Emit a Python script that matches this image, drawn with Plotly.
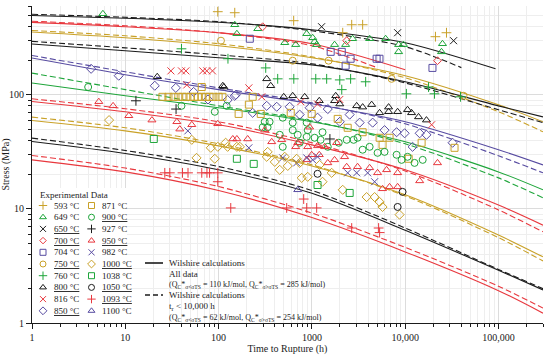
import plotly.graph_objects as go

FONT = "Liberation Serif, DejaVu Serif, serif"
GOLD = "#c9a128"
GREEN = "#1ea53a"
RED = "#e8383e"
PURPLE = "#574ba1"
BLACK = "#1b1b1b"

# ---------------- experimental data (time h, stress MPa) ----------------
t593 = [98, 149, 638, 2670, 3500, 2140, 21100, 27700]
s593 = [535, 524, 446, 411, 411, 350, 323, 350]
t649 = [5.75, 149, 157, 263, 512, 671, 880, 1020, 1070, 1125, 1750, 2300, 2730, 4160, 6170, 8500, 9600, 8500, 25100, 24500]
s649 = [513, 411, 343, 379, 286, 275, 343, 316, 292, 275, 275, 275, 310, 310, 310, 275, 275, 238, 280, 238]
t650 = [1270, 8300, 33000]
s650 = [395, 350, 298]
t700 = [297, 2360, 22200]
s700 = [395, 298, 199]
t704 = [216, 1590, 2090, 2600, 2300, 4940, 5300, 19600]
s704 = [310, 238, 238, 207, 180, 207, 207, 172]
t750 = [106, 623, 1510, 7150, 42200]
s750 = [298, 199, 199, 138, 98]
t760 = [40, 126, 320, 430, 640, 1100, 1440, 1990, 2600, 3770, 2090, 10300, 17800, 20600, 39200]
s760 = [253, 207, 172, 138, 138, 138, 138, 135, 138, 130, 111, 102, 117, 102, 96]
t800 = [22, 114, 111, 328, 362, 499, 623, 837, 1200, 1800, 1750, 1990, 3020, 3500, 4370, 5320, 6640, 6640, 8300, 10600, 11700, 13900, 16900]
s800 = [144, 117, 120, 138, 120, 96, 98, 96, 88.6, 98, 88.6, 83, 80, 78, 82, 69.5, 78, 71, 71, 74, 69.5, 64, 60]
t816 = [30.8, 40, 44.6, 67.7, 74.7, 86, 45.6, 211, 290, 760, 1150, 1990, 19200]
s816 = [162, 162, 162, 162, 162, 162, 122, 115, 96, 87, 83, 91, 54.6]
t850 = [4.3, 8.5, 20.7, 34.8, 54, 77, 125, 149, 153, 232, 328, 420, 578, 946, 1480, 740, 1150, 1990, 2540, 3250, 4480, 6010, 8090, 9860, 12000, 14300, 16900, 32200]
s850 = [169, 147, 120, 115, 106, 91, 90, 98, 100, 69.5, 80, 78.5, 78.5, 77, 75, 67, 63, 58, 67, 57, 57, 49, 47, 46, 35, 46, 44.6, 38]
t871 = [25, 29, 33, 37, 41, 45, 50, 55, 60, 66, 73, 80, 88, 100, 110,
        66, 211, 232, 164, 283, 593, 995, 1890, 2420, 3500, 5320, 6800, 5720, 10900, 15000, 33800]
s871 = [96, 96, 96, 96, 96, 96, 96, 96, 96, 96, 96, 96, 96, 96, 96,
        117, 82, 96, 68, 68, 69.5, 68, 61.5, 51.4, 47, 42, 42, 36.4, 27.5, 38, 34.3]
t900 = [4, 40, 91, 122, 312, 352, 297, 335, 452, 487, 623, 705, 902, 740, 880, 1070, 1300, 1240, 1480, 1940,
        2360, 2800, 3090, 3500, 4160, 5060, 6010, 8090, 9150, 10600, 12600, 15400, 487, 623, 880]
s900 = [117, 80, 71, 80, 58, 58, 52, 52, 44.6, 35, 49, 44.6, 49, 38, 42.8, 42, 47, 40.3, 35, 38,
        40.3, 40.3, 42, 33, 35, 31, 31.6, 29.8, 26.9, 28.6, 25.3, 26.9, 63, 57, 57]
t927 = [13, 35, 1560]
s927 = [88.6, 75, 41]
t950 = [5.2, 7.4, 10.9, 19.3, 35.7, 38.4, 51.6, 98, 142, 157, 205, 312, 371, 475, 705, 671, 902, 1150, 1370, 1840,
        946, 1750, 2240, 880, 995, 1200, 1480, 2360, 3090, 4160, 5060, 6320, 8300, 5720, 6800, 8300, 14300, 22200]
s950 = [87, 80, 65.5, 60, 58, 50, 54.6, 55.7, 41, 41, 41, 49, 38.7, 40.3, 38, 35, 35, 35.7, 35, 38,
        52, 26.9, 28.6, 26.9, 29.8, 29.8, 25.3, 23.4, 23.4, 22.9, 20.7, 22, 20.7, 15, 15.6, 15.6, 17.6, 25.3]
t982 = [46.8, 211, 487, 687, 880, 1020, 1150, 2420, 3020, 3960, 4700]
s982 = [48.3, 34.3, 28, 25.3, 28, 26.9, 28.6, 20.7, 20.7, 20.7, 17.3]
t1000 = [6.7, 51.6, 58, 82.5, 98, 125, 157, 119, 169, 91, 328, 336, 512, 400, 551, 452, 687, 740, 778, 902,
         1210, 1630, 1300, 2140, 3860, 4700, 5320, 5720, 8710]
s1000 = [60, 40.3, 28, 34.3, 35, 35, 35, 38, 35, 27.5, 28.6, 31.6, 28.6, 25.8, 23.8, 22, 27.5, 25.3, 18.7, 19.1,
         24.3, 20.7, 17.3, 14.7, 12.7, 12.7, 11.5, 10.4, 8.9]
t1038 = [20.2, 157, 238, 1150, 2540]
s1038 = [41, 27.5, 24.8, 16.2, 13.8]
t1050 = [1150, 8300, 9370]
s1050 = [20.3, 10.4, 14.1]
t1093 = [26.5, 30, 41, 47, 66, 75, 80, 98, 98, 135, 537, 817, 880, 1125, 2670, 5190, 5320]
s1093 = [20.7, 20.7, 20.7, 20.7, 20.7, 20.7, 20.7, 20.7, 17.3, 10.2, 10.2, 12.2, 10.2, 10.2, 6.8, 6.8, 6.2]
t1100 = [705]
s1100 = [14.7]

# ---------------- Wilshire curves (time h, stress MPa) ----------------
tc = [1, 10, 100, 1000, 10000, 100000, 300000]
c650_t = [1, 10, 100, 1000, 10000, 93000]
c650_s = [496, 469, 432, 372, 286, 169]
c650d_t = [1, 10, 100, 1000, 10000, 40000]
c650d_s = [508, 478, 437, 364, 264, 173]
c700_t = [1, 10, 100, 1000, 10000]
c700_s = [431, 395, 350, 280, 166]
c700d_t = [1, 10, 100, 1000, 5000]
c700d_s = [441, 403, 350, 269, 173]
c750_s = [355, 316, 269, 211, 147, 81.7, 58]
c750d_s = [366, 329, 280, 215, 141, 71, 47.4]
c800_s = [278.5, 243, 211, 183, 130, 80, 64]
c800d_s = [294, 258, 224, 187, 127, 74, 57]
c850_s = [210, 150, 111, 83.4, 58, 33, 24.3]
c850d_s = [221, 159, 115, 85, 55.7, 29.2, 20.7]
c900_s = [127, 98, 77, 58, 38.7, 21.1, 14.7]
c900d_s = [155, 111, 80, 59, 37.2, 18.7, 12.5]
c950_s = [87.4, 71, 54.6, 36.4, 22, 10.8, 7.2]
c950d_s = [92.2, 75.4, 58, 38, 21.5, 9.8, 6.3]
c1000_s = [59.5, 48.3, 35.7, 23.8, 13.3, 5.9, 3.8]
c1000d_s = [63.7, 51.4, 37.2, 24.3, 13, 5.6, 3.5]
c1050_s = [39, 30.6, 22, 13.7, 6.5, 2.9, 1.95]
c1050d_s = [41.7, 32.5, 23.5, 14.5, 6.8, 2.95, 2.0]
c1093_s = [26.9, 21.1, 14.5, 8.4, 4.2, 1.92, 1.22]
c1093d_s = [29.4, 22.8, 15.7, 9.2, 4.6, 2.1, 1.35]

x_tickvals = [1, 10, 100, 1000, 10000, 100000]
x_ticktext = ["1", "10", "100", "1000", "10,000", "100,000"]
y_tickvals = [1, 10, 100]
y_ticktext = ["1", "10", "100"]

DASH = "6px,3px"
fig = go.Figure()

curves = [
    (c650_t, c650_s, BLACK, "solid"), (c650d_t, c650d_s, BLACK, DASH),
    (c700_t, c700_s, RED, "solid"), (c700d_t, c700d_s, RED, DASH),
    (tc, c750_s, GOLD, "solid"), (tc, c750d_s, GOLD, DASH),
    (tc, c800_s, BLACK, "solid"), (tc, c800d_s, BLACK, DASH),
    (tc, c850_s, PURPLE, "solid"), (tc, c850d_s, PURPLE, DASH),
    (tc, c900_s, GREEN, "solid"), (tc, c900d_s, GREEN, DASH),
    (tc, c950_s, RED, "solid"), (tc, c950d_s, RED, DASH),
    (tc, c1000_s, GOLD, "solid"), (tc, c1000d_s, GOLD, DASH),
    (tc, c1050_s, BLACK, "solid"), (tc, c1050d_s, BLACK, DASH),
    (tc, c1093_s, RED, "solid"), (tc, c1093d_s, RED, DASH),
]
for xs, ys, col, dash in curves:
    fig.add_trace(go.Scatter(x=xs, y=ys, mode="lines",
                             line=dict(color=col, width=1.1, dash=dash, shape="spline", smoothing=0.8),
                             hoverinfo="skip", showlegend=False))

series = [
    ("593 °C", False, t593, s593, "cross-thin", GOLD, 7),
    ("649 °C", False, t649, s649, "triangle-up-open", GREEN, 7),
    ("650 °C", True, t650, s650, "x-thin", BLACK, 7),
    ("700 °C", True, t700, s700, "diamond-open", RED, 6),
    ("704 °C", False, t704, s704, "square-open", PURPLE, 7),
    ("750 °C", True, t750, s750, "circle-open", GOLD, 7),
    ("760 °C", False, t760, s760, "cross-thin", GREEN, 7),
    ("800 °C", True, t800, s800, "triangle-up-open", BLACK, 7),
    ("816 °C", False, t816, s816, "x-thin", RED, 7),
    ("850 °C", True, t850, s850, "diamond-open", PURPLE, 7),
    ("871 °C", False, t871, s871, "square-open", GOLD, 7),
    ("900 °C", True, t900, s900, "circle-open", GREEN, 7),
    ("927 °C", False, t927, s927, "cross-thin", BLACK, 7),
    ("950 °C", True, t950, s950, "triangle-up-open", RED, 7),
    ("982 °C", False, t982, s982, "x-thin", PURPLE, 7),
    ("1000 °C", True, t1000, s1000, "diamond-open", GOLD, 7),
    ("1038 °C", False, t1038, s1038, "square-open", GREEN, 7),
    ("1050 °C", True, t1050, s1050, "circle-open", BLACK, 7),
    ("1093 °C", True, t1093, s1093, "cross-thin", RED, 7),
    ("1100 °C", False, t1100, s1100, "triangle-up-open", PURPLE, 7),
]
for name, und, xs, ys, sym, col, sz in series:
    fig.add_trace(go.Scatter(x=xs, y=ys, mode="markers", name=name,
                             marker=dict(symbol=sym, size=sz, color=col, line=dict(color=col, width=1)),
                             showlegend=False))

# ---------------- manual legend (helper axes x2/y2 in pixel units) ----------------
fig.add_trace(go.Scatter(x=[32.6, 127, 127, 32.6, 32.6], y=[188, 188, 322.4, 322.4, 188],
                         xaxis="x2", yaxis="y2", mode="lines", fill="toself",
                         fillcolor="white", line=dict(width=0, color="white"),
                         hoverinfo="skip", showlegend=False))
fig.add_annotation(xref="x2", yref="y2", x=38, y=195, text="Experimental Data", showarrow=False,
                   xanchor="left", yanchor="middle", font=dict(family=FONT, size=9, color=BLACK))
for i, (name, und, xs, ys, sym, col, sz) in enumerate(series):
    col_i, row_i = divmod(i, 10)
    mx = 43 if col_i == 0 else 91.5
    tx = 51.5 if col_i == 0 else 100
    yy = 205.5 + row_i * 11.7
    fig.add_trace(go.Scatter(x=[mx], y=[yy], xaxis="x2", yaxis="y2", mode="markers",
                             marker=dict(symbol=sym, size=sz - 1, color=col, line=dict(color=col, width=1)),
                             hoverinfo="skip", showlegend=False))
    label = f"<u>{name}</u>" if und else name
    fig.add_annotation(xref="x2", yref="y2", x=tx, y=yy, text=label, showarrow=False,
                       xanchor="left", yanchor="middle", font=dict(family=FONT, size=9, color=BLACK))

# Wilshire legend samples
fig.add_trace(go.Scatter(x=[145, 163], y=[263, 263], xaxis="x2", yaxis="y2", mode="lines",
                         line=dict(color=BLACK, width=1.6), hoverinfo="skip", showlegend=False))
fig.add_trace(go.Scatter(x=[145, 163], y=[295, 295], xaxis="x2", yaxis="y2", mode="lines",
                         line=dict(color=BLACK, width=1.6, dash="5px,3px"), hoverinfo="skip", showlegend=False))
wl = [
    (263, "Wilshire calculations", 9),
    (273.5, "All data", 9),
    (284.5, "(Q<sub>C</sub>*<sub>σ&lt;σTS</sub> = 110 kJ/mol, Q<sub>C</sub>*<sub>σ&gt;σTS</sub> = 285 kJ/mol)", 8),
    (295, "Wilshire calculations", 9),
    (306, "t<sub>r</sub> &lt; 10,000 h", 9),
    (317.5, "(Q<sub>C</sub>*<sub>σ&lt;σTS</sub> = 62 kJ/mol, Q<sub>C</sub>*<sub>σ&gt;σTS</sub> = 254 kJ/mol)", 8),
]
for yy, txt, fs in wl:
    fig.add_annotation(xref="x2", yref="y2", x=167, y=yy, text=txt, showarrow=False,
                       xanchor="left", yanchor="middle", font=dict(family=FONT, size=fs, color=BLACK))

minor_x = [m * 10 ** d for d in range(0, 6) for m in range(2, 10) if m * 10 ** d <= 300000]
minor_y = [m * 10 ** d for d in range(0, 3) for m in range(2, 10) if m * 10 ** d <= 600]

fig.update_layout(
    width=550, height=357,
    margin=dict(l=32, r=7, t=6, b=34, autoexpand=False),
    paper_bgcolor="white", plot_bgcolor="white",
    showlegend=False, hovermode=False,
    font=dict(family=FONT, size=10, color=BLACK),
    xaxis=dict(type="log", range=[0, 5.4771], tickvals=x_tickvals, ticktext=x_ticktext,
               ticks="outside", ticklen=5, tickcolor=BLACK, showline=True, linecolor=BLACK, linewidth=1,
               showgrid=True, gridcolor="#dcdcdc", gridwidth=1, zeroline=False, automargin=False,
               minor=dict(tickvals=minor_x, ticks="outside", ticklen=3, tickcolor=BLACK,
                          showgrid=True, gridcolor="#eeeeee", gridwidth=1),
               tickfont=dict(family=FONT, size=10, color=BLACK),
               title=dict(text="Time to Rupture (h)", font=dict(family=FONT, size=10, color=BLACK), standoff=2)),
    yaxis=dict(type="log", range=[0, 2.7782], tickvals=y_tickvals, ticktext=y_ticktext,
               ticks="outside", ticklen=5, tickcolor=BLACK, showline=True, linecolor=BLACK, linewidth=1,
               showgrid=True, gridcolor="#dcdcdc", gridwidth=1, zeroline=False, automargin=False,
               minor=dict(tickvals=minor_y, ticks="outside", ticklen=3, tickcolor=BLACK,
                          showgrid=True, gridcolor="#eeeeee", gridwidth=1),
               tickfont=dict(family=FONT, size=10, color=BLACK),
               title=dict(text="Stress (MPa)", font=dict(family=FONT, size=10, color=BLACK), standoff=2)),
    xaxis2=dict(overlaying="x", range=[32, 543], visible=False, fixedrange=True),
    yaxis2=dict(overlaying="y", range=[323, 6], visible=False, fixedrange=True),
)

fig.write_html("out.html", config={"displayModeBar": False, "staticPlot": True},
               post_script="document.body.style.margin='0';document.body.style.padding='0';")
